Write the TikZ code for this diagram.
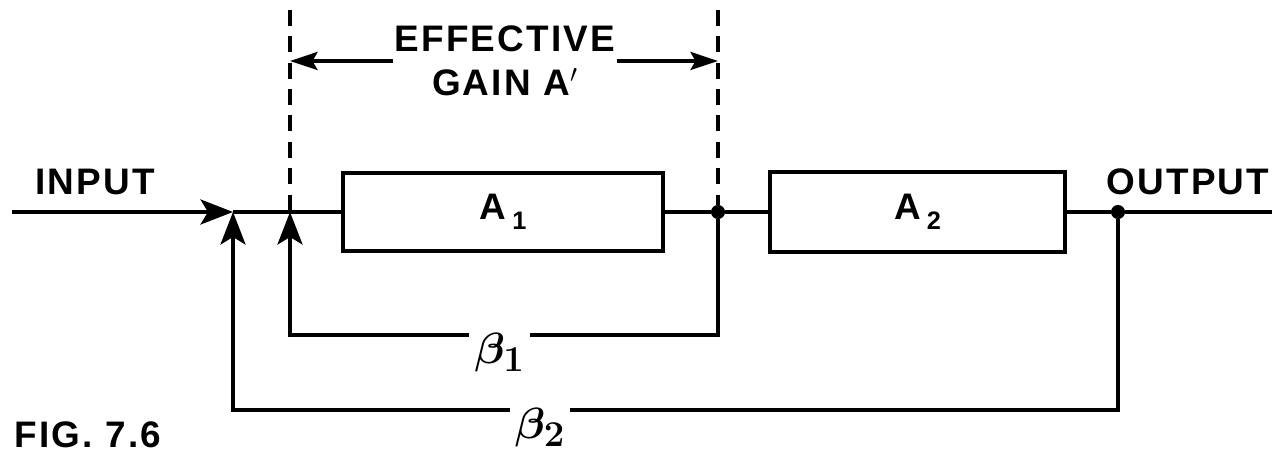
\documentclass[tikz,border=0pt]{standalone}
\usepackage{fontspec}
\setmainfont{Liberation Sans}[LetterSpace=6]
\usetikzlibrary{positioning,arrows.meta}
\newcommand{\gainsub}[2]{#1\,\raisebox{-0.5ex}{\Large #2}}
\tikzset{
  block/.style={draw, rectangle, line width=2.1pt, minimum width=6.4cm, minimum height=1.55cm,
                font=\fontsize{21}{24}\selectfont\bfseries},
  wire/.style={line width=2.1pt},
  feed/.style={wire, -{Stealth[length=6.5mm,width=5mm,inset=1.5mm]}},
  span/.style={line width=2.1pt, -{Stealth[length=5.5mm,width=3.6mm,inset=1mm]}},
  bound/.style={line width=2.1pt, dash pattern=on 9pt off 6pt},
  dot/.style={circle, fill, inner sep=0pt, minimum size=8pt},
  lbl/.style={font=\fontsize{21}{25}\selectfont\bfseries, inner sep=1pt, align=center},
  betalbl/.style={fill=white, inner sep=3pt, font=\Huge\boldmath},
}

\begin{document}
\begin{tikzpicture}
\useasboundingbox (0,0) rectangle (25.44,9.16);
% the two amplifier blocks
\node[block] (a1) at (10.06,4.92) {\gainsub{A}{1}};
\node[block, minimum width=5.9cm, minimum height=1.6cm] (a2) at (18.35,4.92) {\gainsub{A}{2}};
% points on the signal line
\coordinate (in)  at (0.24,4.92);
\coordinate (j2)  at (4.66,4.92);
\coordinate (j1)  at (5.8,4.92);
\node[dot] (s1) at (14.36,4.92) {};
\node[dot] (s2) at (22.36,4.92) {};
\coordinate (out) at (25.44,4.92);
% corners of the feedback loops
\coordinate (b1r) at (14.36,2.46);
\coordinate (b1l) at (5.8,2.46);
\coordinate (b2r) at (22.36,0.96);
\coordinate (b2l) at (4.66,0.96);
% ends of the dashed bounds
\coordinate (t1) at (5.8,8.96);
\coordinate (t2) at (14.36,8.96);

\draw[feed] (in) -- (j2);
\draw[wire] (j2) -- (a1.west);
\draw[wire] (a1.east) -- (s1) -- (a2.west);
\draw[wire] (a2.east) -- (s2) -- (out);
\draw[feed] (s1) -- (b1r) -- node[betalbl, pos=0.51, yshift=-10pt] {$\beta_1$} (b1l) -- (j1);
\draw[feed] (s2) -- (b2r) -- node[betalbl, pos=0.653, yshift=-10pt] {$\beta_2$} (b2l) -- (j2);

\draw[bound] (t1) -- (j1);
\draw[bound] (t2) -- (s1);
\node[lbl] (eff) at (10.1,7.94) {EFFECTIVE\\GAIN A$'$};
\draw[span] (eff.west) -- (t1 |- eff);
\draw[span] (eff.east) -- (t2 |- eff);

\node[lbl] (input)  at (1.9,5.52)   {INPUT};
\node[lbl] (output) at (23.76,5.52) {OUTPUT};
\node[lbl] (fig)    at (1.76,0.46)  {FIG. 7.6};
\end{tikzpicture}
\end{document}
